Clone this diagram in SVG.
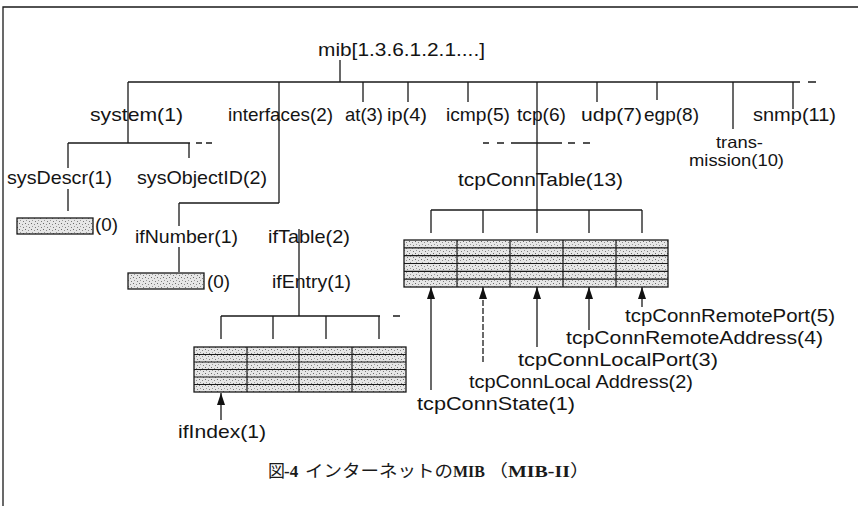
<svg xmlns="http://www.w3.org/2000/svg" width="858" height="506" viewBox="0 0 858 506">
<style>
.t{font-family:"Liberation Sans",Arial,sans-serif;font-size:19px;fill:#141414}
.s{font-size:16.5px}
.ln{stroke:#1a1a1a;stroke-width:1.3;fill:none}
.grid{stroke:#1a1a1a;stroke-width:1.2;fill:none}
.box{fill:url(#stip);stroke:#1a1a1a;stroke-width:1.3}
.cap{font-family:"Liberation Serif","Noto Sans CJK JP",serif;font-size:17px;fill:#1a1a1a}
.b{font-weight:bold}
</style>
<defs>
<pattern id="stip" width="6" height="6" patternUnits="userSpaceOnUse">
<rect width="6" height="6" fill="#e6e6e6"/>
<rect x="1" y="1" width="1" height="1" fill="#6a6a6a"/>
<rect x="4" y="2" width="1" height="1" fill="#8a8a8a"/>
<rect x="2" y="4" width="1" height="1" fill="#9a9a9a"/>
<rect x="5" y="5" width="1" height="1" fill="#7a7a7a"/>
</pattern>
<marker id="arr" viewBox="0 0 12 8" refX="12" refY="4" markerWidth="12" markerHeight="8" markerUnits="userSpaceOnUse" orient="auto">
<path d="M0,0 L12,4 L0,8 z" fill="#111"/>
</marker>
</defs>
<rect width="858" height="506" fill="#fff"/>
<path class="ln" d="M3,506 V7 H858"/>

<g id="connectors">
<path class="ln" d="M340,60 V82 M128,82 H800 M808,82 H816 M128,82 V143 M279,82 V203 M363,82 V102 M408,82 V102 M468,82 V102 M537,82 V233 M597,82 V102 M657,82 V100 M733,82 V129 M793,82 V109"/>
<path class="ln" d="M68,143 H190 M196,143 H202 M206,143 H212 M68,143 V168 M68,189 V211 M189,143 V158"/>
<path class="ln" d="M179,203 H279 M179,203 V226 M179,247 V272 M299,229 V316 M221,316 H380 M393,316 H400 M221,316 V339 M273,316 V339 M326,316 V339 M379,316 V339"/>
<path class="ln" d="M483,143 H489 M497,143 H504 M511,143 H562 M568,143 H575 M583,143 H590 M431,210 H642 M431,210 V233 M483,210 V233 M589,210 V233 M642,210 V233"/>
<line class="ln" x1="221" y1="420" x2="221" y2="393" marker-end="url(#arr)"/>
<line class="ln" x1="431" y1="390" x2="431" y2="287" marker-end="url(#arr)"/>
<line class="ln" x1="483" y1="362" x2="483" y2="287" stroke-dasharray="6 2" marker-end="url(#arr)"/>
<line class="ln" x1="537" y1="347" x2="537" y2="287" marker-end="url(#arr)"/>
<line class="ln" x1="589" y1="330" x2="589" y2="287" marker-end="url(#arr)"/>
<line class="ln" x1="642" y1="307" x2="642" y2="287" marker-end="url(#arr)"/>
</g>

<g id="mib"><text class="t" x="318" y="56" textLength="167" lengthAdjust="spacingAndGlyphs">mib[1.3.6.1.2.1....]</text></g>
<g id="system"><text class="t" x="90" y="121" textLength="93" lengthAdjust="spacingAndGlyphs">system(1)</text></g>
<g id="interfaces"><text class="t" x="228" y="121" textLength="105" lengthAdjust="spacingAndGlyphs">interfaces(2)</text></g>
<g id="at"><text class="t" x="345" y="121" textLength="38" lengthAdjust="spacingAndGlyphs">at(3)</text></g>
<g id="ip"><text class="t" x="387" y="121" textLength="40" lengthAdjust="spacingAndGlyphs">ip(4)</text></g>
<g id="icmp"><text class="t" x="446" y="121" textLength="64" lengthAdjust="spacingAndGlyphs">icmp(5)</text></g>
<g id="tcp"><text class="t" x="517" y="121" textLength="49" lengthAdjust="spacingAndGlyphs">tcp(6)</text></g>
<g id="udp"><text class="t" x="581" y="121" textLength="61" lengthAdjust="spacingAndGlyphs">udp(7)</text></g>
<g id="egp"><text class="t" x="644" y="121" textLength="55" lengthAdjust="spacingAndGlyphs">egp(8)</text></g>
<g id="transmission"><text class="t s" x="716" y="148" textLength="47" lengthAdjust="spacingAndGlyphs">trans-</text><text class="t s" x="689" y="166" textLength="95" lengthAdjust="spacingAndGlyphs">mission(10)</text></g>
<g id="snmp"><text class="t" x="753" y="121" textLength="83" lengthAdjust="spacingAndGlyphs">snmp(11)</text></g>

<g id="sysDescr"><text class="t" x="7" y="184" textLength="105" lengthAdjust="spacingAndGlyphs">sysDescr(1)</text></g>
<g id="sysObjectID"><text class="t" x="137" y="184" textLength="130" lengthAdjust="spacingAndGlyphs">sysObjectID(2)</text></g>
<g id="sysDescr-value"><rect class="box" x="17" y="218" width="76" height="16"/><text class="t" x="95" y="231" textLength="23" lengthAdjust="spacingAndGlyphs">(0)</text></g>

<g id="ifNumber"><text class="t" x="135" y="243" textLength="103" lengthAdjust="spacingAndGlyphs">ifNumber(1)</text></g>
<g id="ifTable"><text class="t" x="268" y="243" textLength="82" lengthAdjust="spacingAndGlyphs">ifTable(2)</text></g>
<g id="ifNumber-value"><rect class="box" x="128" y="273" width="76" height="16"/><text class="t" x="207" y="288" textLength="23" lengthAdjust="spacingAndGlyphs">(0)</text></g>
<g id="ifEntry"><text class="t" x="272" y="288" textLength="79" lengthAdjust="spacingAndGlyphs">ifEntry(1)</text></g>
<g id="ifEntry-table"><rect class="box" x="194" y="347" width="212" height="45"/><path class="grid" d="M194,354.5 H406 M194,362 H406 M194,369.5 H406 M194,377 H406 M194,384.5 H406 M247,347 V392 M299,347 V392 M352,347 V392"/></g>
<g id="ifIndex"><text class="t" x="178" y="438" textLength="88" lengthAdjust="spacingAndGlyphs">ifIndex(1)</text></g>

<g id="tcpConnTable"><text class="t" x="458" y="186" textLength="165" lengthAdjust="spacingAndGlyphs">tcpConnTable(13)</text></g>
<g id="tcpConn-table"><rect class="box" x="404" y="240" width="264" height="47"/><path class="grid" d="M404,247.8 H668 M404,255.7 H668 M404,263.5 H668 M404,271.3 H668 M404,279.2 H668 M457,240 V287 M510,240 V287 M563,240 V287 M616,240 V287"/></g>
<g id="tcpConnState"><text class="t" x="417" y="410" textLength="158" lengthAdjust="spacingAndGlyphs">tcpConnState(1)</text></g>
<g id="tcpConnLocalAddress"><text class="t" x="469" y="388" textLength="224" lengthAdjust="spacingAndGlyphs">tcpConnLocal Address(2)</text></g>
<g id="tcpConnLocalPort"><text class="t" x="518" y="366" textLength="200" lengthAdjust="spacingAndGlyphs">tcpConnLocalPort(3)</text></g>
<g id="tcpConnRemoteAddress"><text class="t" x="566" y="344" textLength="257" lengthAdjust="spacingAndGlyphs">tcpConnRemoteAddress(4)</text></g>
<g id="tcpConnRemotePort"><text class="t" x="625" y="322" textLength="210" lengthAdjust="spacingAndGlyphs">tcpConnRemotePort(5)</text></g>

<g id="caption">
<text class="cap" x="268" y="477">図<tspan class="b" x="284">-4</tspan></text>
<text class="cap" x="305" y="477" textLength="148" lengthAdjust="spacingAndGlyphs">インターネットの</text>
<text class="cap b" x="453" y="477" textLength="32" lengthAdjust="spacingAndGlyphs">MIB</text>
<text class="cap" x="488" y="477" textLength="102" lengthAdjust="spacingAndGlyphs">（<tspan class="b">MIB-II</tspan>）</text>
</g>
</svg>
